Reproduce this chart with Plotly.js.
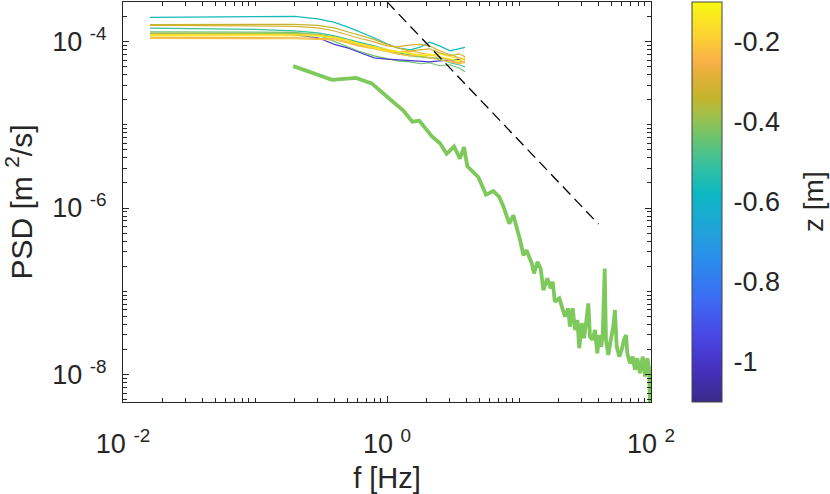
<!DOCTYPE html>
<html><head><meta charset="utf-8">
<script src="https://cdn.plot.ly/plotly-3.0.1.min.js"></script>
<style>body{margin:0;background:#fff}#chart{width:830px;height:494px}</style>
</head><body><div id="chart"></div>
<script>
// ---- data ----
const fThin = [0.016,0.03,0.06,0.1,0.2,0.3,0.4,0.5,0.6,0.8,1.0,1.2,1.5,1.8,2.1,2.5,3.0,3.5,3.9];

const psdTeal   = [1.95e-4,1.96e-4,1.98e-4,2.0e-4,2.01e-4,1.87e-4,1.70e-4,1.50e-4,1.34e-4,1.11e-4,9.39e-5,8.41e-5,7.96e-5,8.64e-5,9.8e-5,8.88e-5,7.74e-5,8.18e-5,8.5e-5];
const psdGold   = [1.60e-4,1.60e-4,1.61e-4,1.62e-4,1.61e-4,1.56e-4,1.46e-4,1.31e-4,1.20e-4,1.06e-4,9.26e-5,8.41e-5,7.74e-5,7.96e-5,8.18e-5,7.32e-5,6.74e-5,7.12e-5,6.56e-5];
const psdGold2  = [1.56e-4,1.56e-4,1.55e-4,1.54e-4,1.52e-4,1.46e-4,1.34e-4,1.20e-4,1.11e-4,9.92e-5,8.88e-5,8.64e-5,9.13e-5,9.26e-5,8.88e-5,7.74e-5,6.93e-5,6.38e-5,6.21e-5];
const psdGreen  = [1.45e-4,1.44e-4,1.42e-4,1.40e-4,1.34e-4,1.27e-4,1.17e-4,1.08e-4,9.92e-5,8.88e-5,7.96e-5,7.32e-5,6.93e-5,6.56e-5,6.38e-5,6.21e-5,5.56e-5,5.26e-5,4.98e-5];
const psdLime   = [1.26e-4,1.26e-4,1.26e-4,1.27e-4,1.25e-4,1.22e-4,1.14e-4,1.05e-4,9.65e-5,8.64e-5,7.74e-5,7.12e-5,6.74e-5,6.56e-5,6.38e-5,6.38e-5,6.04e-5,5.87e-5,5.71e-5];
const psdBlue   = [1.24e-4,1.24e-4,1.24e-4,1.24e-4,1.20e-4,1.11e-4,9.26e-5,8.41e-5,7.53e-5,6.38e-5,6.14e-5,6.04e-5,5.96e-5,5.87e-5,5.71e-5,5.87e-5,6.04e-5,6.12e-5,6.14e-5];
const psdYellow = [1.18e-4,1.18e-4,1.19e-4,1.19e-4,1.19e-4,1.17e-4,1.11e-4,1.02e-4,9.39e-5,8.41e-5,7.74e-5,7.53e-5,7.32e-5,6.74e-5,7.12e-5,6.56e-5,6.21e-5,5.87e-5,6.38e-5];
const psdOrange = [1.13e-4,1.13e-4,1.13e-4,1.12e-4,1.11e-4,1.09e-4,1.08e-4,9.92e-5,9.13e-5,8.41e-5,7.96e-5,7.53e-5,7.74e-5,7.32e-5,6.93e-5,6.56e-5,5.87e-5,5.56e-5,5.87e-5];
const psdPeach  = [1.09e-4,1.09e-4,1.09e-4,1.09e-4,1.08e-4,1.06e-4,1.05e-4,9.65e-5,8.88e-5,8.18e-5,7.53e-5,7.12e-5,6.74e-5,6.93e-5,6.38e-5,6.04e-5,5.71e-5,5.41e-5,5.56e-5];
const psdLtGreen= [1.31e-4,1.31e-4,1.31e-4,1.31e-4,1.29e-4,1.20e-4,9.92e-5,8.64e-5,7.74e-5,6.74e-5,6.21e-5,5.87e-5,5.71e-5,5.41e-5,5.56e-5,5.12e-5,5.26e-5,4.84e-5,4.34e-5];
const psdYellow2= [1.22e-4,1.22e-4,1.22e-4,1.22e-4,1.22e-4,1.19e-4,1.12e-4,1.04e-4,9.52e-5,8.64e-5,8.07e-5,7.74e-5,7.12e-5,6.93e-5,6.74e-5,7.12e-5,6.56e-5,6.21e-5,6.04e-5];

const thinSeries = [psdLtGreen,psdBlue,psdGreen,psdTeal,psdLime,psdGold,psdGold2,psdOrange,psdPeach,psdYellow2,psdYellow];
const zThin      = [-0.44,    -0.98,  -0.50,   -0.56,  -0.39,  -0.34,  -0.30,   -0.25,    -0.22,   -0.17,     -0.13];

const fThick = [0.195,0.383,0.582,0.766,1.054,1.329,1.555,1.757,2.18,2.52,2.83,3.22,3.57,3.83,4.06,4.92,5.62,6.39,7.09,7.60,8.45,9.06,
  10.2,10.8,11.4,12.5,13.0,13.8,14.6,15.3,16.4,17.4,18.0,18.7,20.2,21.4,22.3,23.6,24.3,25.5,26.6,27.7,28.6,29.9,31.1,32.2,33.5,34.5,
  36.2,37.6,39.2,40.6,42.0,43.1,44.6,45.6,47.5,49.6,51.8,53.3,55.0,57.5,60.0,62.4,64.7,66.1,69.3,72.7,75.6,78.8,82.5,86.6,90.1,93.8,96.6,99.1,100];
const psdThick = [5.07e-5,3.47e-5,3.65e-5,3.14e-5,2.03e-5,1.48e-5,1.09e-5,1.12e-5,7.28e-6,6.0e-6,4.48e-6,5.48e-6,3.91e-6,5.38e-6,3.16e-6,2.35e-6,1.45e-6,1.60e-6,1.36e-6,1.05e-6,6.5e-7,8.18e-7,
  4.1e-7,2.71e-7,3.11e-7,2.16e-7,1.64e-7,2.25e-7,1.88e-7,1.03e-7,1.43e-7,1.08e-7,1.30e-7,7.48e-8,8.22e-8,5.96e-8,4.96e-8,6.24e-8,3.76e-8,6.24e-8,3.43e-8,4.52e-8,2.07e-8,4.13e-8,2.73e-8,4.13e-8,7.16e-8,2.85e-8,
  2.61e-8,3.43e-8,1.80e-8,2.98e-8,2.16e-8,3.13e-8,1.88e-7,2.61e-8,1.72e-8,2.61e-8,3.76e-8,5.96e-8,2.16e-8,1.64e-8,1.98e-8,2.61e-8,2.98e-8,1.80e-8,1.37e-8,1.64e-8,1.14e-8,1.57e-8,1.04e-8,1.64e-8,9.46e-9,1.57e-8,1.20e-8,3e-9,2e-9];

const fSlope = [1, 40];
const psdSlope = [3.0e-4, 6.42e-7];

const xTickVals = [0.01, 1, 100];
const xTickText = ['10 <sup>-2</sup>','10 <sup>0</sup>','10 <sup>2</sup>'];
const yTickVals = [1e-8, 1e-6, 1e-4];
const yTickText = ['10 <sup>-8</sup>','10 <sup>-6</sup>','10 <sup>-4</sup>'];
const cbTickVals = [-1, -0.8, -0.6, -0.4, -0.2];
const cbTickText = ['-1','-0.8','-0.6','-0.4','-0.2'];
const zMin = -1.1, zMax = -0.1;

// ---- styling ----
const colorscale = [
  [0.00,'#3a2a8a'],[0.09,'#4632c4'],[0.17,'#4848e6'],[0.26,'#3c6cf4'],[0.34,'#2c88ee'],
  [0.42,'#22a0dc'],[0.52,'#0cb8c4'],[0.59,'#34c0a0'],[0.66,'#6cc470'],[0.72,'#a4c048'],
  [0.76,'#c4b42c'],[0.82,'#e4b038'],[0.85,'#f8b048'],[0.91,'#fcd034'],[1.00,'#f8f810']];
function hex2rgb(h){return [parseInt(h.substr(1,2),16),parseInt(h.substr(3,2),16),parseInt(h.substr(5,2),16)];}
function colorAt(z){
  const t = (z - zMin)/(zMax - zMin);
  for (let i=1;i<colorscale.length;i++){
    if (t <= colorscale[i][0]){
      const a=colorscale[i-1], b=colorscale[i];
      const u=(t-a[0])/(b[0]-a[0]);
      const ca=hex2rgb(a[1]), cb=hex2rgb(b[1]);
      return 'rgb('+ca.map((v,k)=>Math.round(v+(cb[k]-v)*u)).join(',')+')';
    }
  }
  return colorscale[colorscale.length-1][1];
}
function minorVals(kmin,kmax,skip){
  const out=[];
  for(let k=kmin;k<=kmax;k++) for(let m=1;m<=9;m++){
    const v=+(m*Math.pow(10,k)).toPrecision(3);
    if(!skip.some(s=>Math.abs(s-v)/s<1e-6)) out.push(v);
  }
  return out;
}

const traces = [];
thinSeries.forEach((s,i)=>{
  traces.push({x:fThin,y:s,type:'scatter',mode:'lines',line:{color:colorAt(zThin[i]),width:1.2},hoverinfo:'skip',showlegend:false});
});
traces.push({x:fThick,y:psdThick,type:'scatter',mode:'lines',line:{color:'#7ec95c',width:3.8},showlegend:false});
traces.push({x:fSlope,y:psdSlope,type:'scatter',mode:'lines',line:{color:'#000',width:1.3,dash:'11px,6px'},showlegend:false});
// colorbar carrier (invisible markers)
const cbX0 = (692-123)/528;
traces.push({x:[fThin[0],fThin[0]],y:[psdTeal[0],psdTeal[0]],type:'scatter',mode:'markers',
  marker:{size:1,opacity:0,color:[zMin,zMax],cmin:zMin,cmax:zMax,colorscale:colorscale,showscale:true,
    colorbar:{x:cbX0,xanchor:'left',xpad:0,y:0.5,yanchor:'middle',len:1,lenmode:'fraction',ypad:0,
      thickness:30,thicknessmode:'pixels',outlinewidth:1,outlinecolor:'#444',
      tickmode:'array',tickvals:cbTickVals,ticktext:cbTickText,ticks:'outside',ticklen:6,tickcolor:'rgba(0,0,0,0)',
      tickfont:{size:27,color:'#262626'}}},
  hoverinfo:'skip',showlegend:false});

// inside tick marks on the colorbar's right edge
const cbRight = (722-123)/528, cbTickIn = 4/528;
const shapes = cbTickVals.map(v=>({type:'line',xref:'paper',yref:'paper',x0:cbRight-cbTickIn,x1:cbRight,
  y0:(v-zMin)/(zMax-zMin),y1:(v-zMin)/(zMax-zMin),line:{color:'#444',width:1}}));

const font = {family:'"Liberation Sans", Arial, Helvetica, sans-serif', color:'#262626'};
const layout = {
  width:830,height:494,
  margin:{l:123,r:179,t:2,b:92,pad:0},
  paper_bgcolor:'#fff',plot_bgcolor:'#fff',
  font:font,
  showlegend:false,
  shapes:shapes,
  annotations:[{text:'z [m]',xref:'paper',yref:'paper',x:(813-123)/528,y:0.5,xanchor:'center',yanchor:'middle',
    textangle:-90,showarrow:false,font:{size:28,color:'#262626'}}],
  xaxis:{type:'log',range:[-2,2],showgrid:false,zeroline:false,showline:true,linecolor:'#262626',linewidth:1,mirror:'ticks',
    ticks:'inside',ticklen:6,tickcolor:'#262626',tickmode:'array',tickvals:xTickVals,ticktext:xTickText,
    tickfont:{size:27},ticklabelstandoff:18,
    minor:{tickmode:'array',tickvals:minorVals(-2,1,xTickVals),ticks:'inside',ticklen:4,tickcolor:'#262626',showgrid:false},
    title:{text:'f [Hz]',font:{size:29},standoff:10}},
  yaxis:{type:'log',range:[-8.33,-3.525],showgrid:false,zeroline:false,showline:true,linecolor:'#262626',linewidth:1,mirror:'ticks',
    ticks:'inside',ticklen:6,tickcolor:'#262626',tickmode:'array',tickvals:yTickVals,ticktext:yTickText,
    tickfont:{size:27},ticklabelstandoff:10,
    minor:{tickmode:'array',tickvals:minorVals(-9,-4,yTickVals),ticks:'inside',ticklen:4,tickcolor:'#262626',showgrid:false},
    title:{text:'PSD [m <sup>2</sup>/s]',font:{size:30},standoff:14}}
};
Plotly.newPlot('chart',traces,layout,{staticPlot:true,displayModeBar:false});
</script>
</body></html>
